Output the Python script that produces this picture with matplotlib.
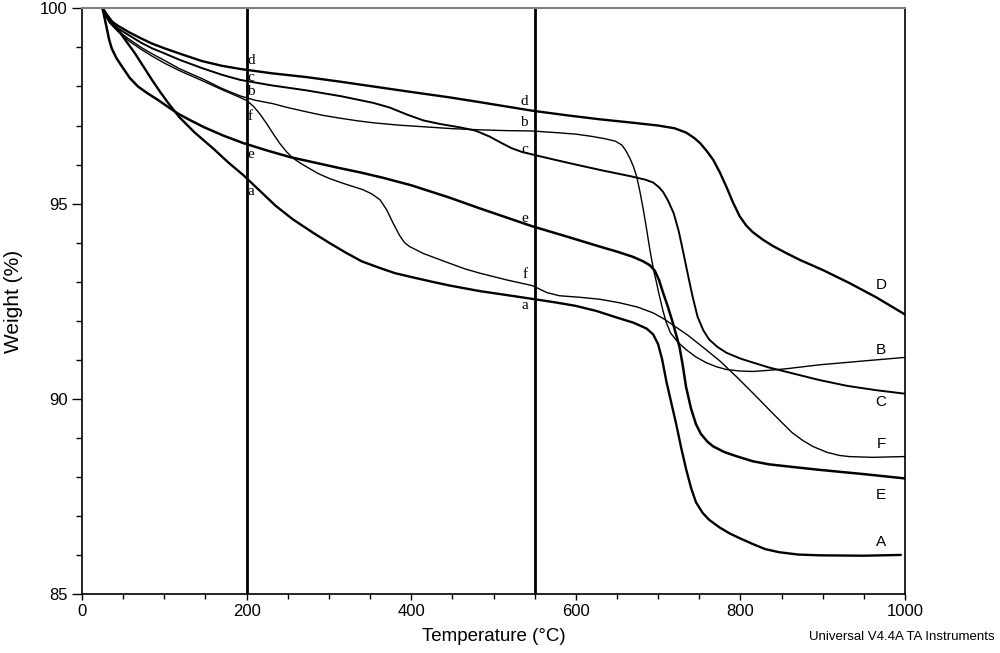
import numpy as np
import matplotlib
matplotlib.use('Agg')
import matplotlib.pyplot as plt
from matplotlib.ticker import MultipleLocator

plt.rcParams['font.family'] = ['Liberation Sans', 'DejaVu Sans']

# TGA curves (temperature in deg C, weight in %)
T_A = [25, 27, 30, 36, 44, 54, 64, 75, 85, 95, 105, 118, 137, 160, 178, 196,
       215, 235, 256, 281, 300, 320, 340, 362, 380, 400, 425, 447, 483, 515,
       547, 575, 600, 625, 653, 670, 686, 694, 700, 705, 710, 716, 722, 728,
       734, 740, 746, 754, 762, 775, 787, 800, 815, 830, 847, 870, 896, 950,
       995]
W_A = [100, 99.95, 99.85, 99.68, 99.45, 99.15, 98.86, 98.5, 98.17, 97.86,
       97.57, 97.22, 96.82, 96.4, 96.05, 95.73, 95.35, 94.95, 94.6, 94.25,
       94.0, 93.75, 93.52, 93.35, 93.22, 93.12, 93.0, 92.9, 92.76, 92.66,
       92.56, 92.47, 92.38, 92.25, 92.06, 91.95, 91.8, 91.65, 91.4, 91.0,
       90.45, 89.9, 89.35, 88.75, 88.2, 87.72, 87.35, 87.08, 86.9, 86.7,
       86.55, 86.42, 86.28, 86.15, 86.07, 86.01, 85.99, 85.98, 86.0]

T_B = [25, 28, 34, 44, 58, 72, 85, 100, 119, 146, 170, 192, 210, 232, 250,
       273, 293, 313, 335, 354, 385, 414, 450, 483, 515, 547, 575, 600, 620,
       636, 648, 656, 661, 666, 670, 674, 678, 682, 686, 690, 694, 698, 702,
       706, 710, 715, 724, 734, 746, 759, 771, 783, 800, 815, 835, 856, 896,
       950, 1000]
W_B = [100, 99.83, 99.63, 99.42, 99.2, 99.0, 98.84, 98.67, 98.45, 98.2,
       97.95, 97.76, 97.65, 97.56, 97.46, 97.35, 97.26, 97.19, 97.12, 97.07,
       97.01, 96.97, 96.92, 96.89, 96.87, 96.86, 96.82, 96.78, 96.72, 96.66,
       96.6, 96.5, 96.35, 96.15, 95.95, 95.69, 95.3, 94.85, 94.35, 93.82,
       93.35, 92.98, 92.6, 92.25, 91.95, 91.69, 91.45, 91.26, 91.07, 90.92,
       90.82, 90.75, 90.71, 90.7, 90.73, 90.77, 90.87, 90.97, 91.06]

T_C = [25, 28, 34, 44, 58, 72, 85, 100, 119, 146, 170, 192, 230, 273, 315,
       354, 374, 395, 415, 435, 460, 478, 495, 510, 522, 535, 547, 575, 600,
       630, 669, 685, 694, 701, 706, 712, 719, 725, 730, 736, 742, 748, 755,
       762, 772, 783, 800, 815, 835, 856, 875, 896, 930, 965, 1000]
W_C = [100, 99.85, 99.65, 99.48, 99.3, 99.12, 98.98, 98.85, 98.68, 98.47,
       98.3, 98.17, 98.03, 97.9, 97.75, 97.58, 97.46, 97.28, 97.13, 97.04,
       96.95, 96.87, 96.72, 96.55, 96.42, 96.32, 96.26, 96.12, 96.0, 95.86,
       95.69, 95.61, 95.54, 95.42, 95.3, 95.08, 94.75, 94.3, 93.81, 93.2,
       92.61, 92.1, 91.75, 91.52, 91.33, 91.18, 91.03, 90.93, 90.8, 90.69,
       90.59, 90.48, 90.33, 90.22, 90.13]

T_D = [25, 28, 34, 44, 58, 72, 85, 100, 119, 146, 170, 192, 230, 273, 315,
       354, 400, 447, 483, 515, 547, 590, 629, 670, 700, 720, 734, 744, 751,
       759, 767, 775, 783, 791, 799, 807, 815, 827, 839, 855, 872, 900, 932,
       965, 1000]
W_D = [100, 99.85, 99.7, 99.55, 99.38, 99.23, 99.1, 98.98, 98.84, 98.65,
       98.53, 98.45, 98.34, 98.24, 98.12, 98.0, 97.86, 97.72, 97.6, 97.49,
       97.38, 97.26, 97.16, 97.07, 97.0, 96.93, 96.82, 96.68, 96.55, 96.35,
       96.12, 95.8, 95.43, 95.03, 94.68, 94.44, 94.27, 94.08, 93.92, 93.74,
       93.56, 93.3, 92.97, 92.6, 92.16]

T_E = [25, 27, 30, 33, 36, 42, 49, 58, 68, 80, 92, 105, 117, 133, 149, 172,
       196, 225, 253, 283, 313, 340, 366, 400, 425, 447, 483, 515, 547, 590,
       629, 650, 669, 682, 690, 696, 701, 706, 712, 718, 726, 730, 734, 740,
       746, 752, 760, 767, 780, 795, 815, 835, 865, 896, 950, 1000]
W_E = [100, 99.8, 99.5, 99.2, 98.98, 98.72, 98.5, 98.22, 98.0, 97.82, 97.66,
       97.47, 97.3, 97.12, 96.95, 96.74, 96.55, 96.36, 96.19, 96.05, 95.91,
       95.79, 95.66, 95.47, 95.3, 95.15, 94.88, 94.65, 94.42, 94.15, 93.9,
       93.77, 93.64, 93.52, 93.42, 93.28, 93.05, 92.72, 92.35, 91.94, 91.33,
       90.85, 90.3, 89.75, 89.35, 89.1, 88.9, 88.78, 88.64, 88.53, 88.4,
       88.32, 88.25, 88.18, 88.07, 87.96]

T_F = [25, 28, 34, 44, 58, 72, 85, 100, 119, 146, 170, 192, 200, 208, 216,
       224, 232, 240, 248, 256, 265, 273, 287, 301, 320, 341, 352, 362, 370,
       378, 386, 392, 398, 415, 443, 465, 483, 515, 547, 565, 580, 605, 629,
       653, 675, 694, 706, 718, 736, 754, 775, 795, 815, 835, 850, 863, 876,
       888, 905, 920, 932, 960, 1000]
W_F = [100, 99.83, 99.62, 99.4, 99.15, 98.95, 98.78, 98.6, 98.4, 98.15,
       97.92, 97.72, 97.64, 97.5, 97.3, 97.06, 96.8, 96.55, 96.34, 96.17,
       96.04, 95.94, 95.77, 95.64, 95.5, 95.36, 95.25, 95.1, 94.85, 94.5,
       94.18, 94.0, 93.9, 93.72, 93.5, 93.33, 93.22, 93.05, 92.9, 92.72,
       92.64, 92.6, 92.55, 92.46, 92.35, 92.2, 92.06, 91.89, 91.63, 91.33,
       90.97, 90.57, 90.15, 89.72, 89.4, 89.13, 88.93, 88.78, 88.63, 88.55,
       88.52, 88.5, 88.52]

# curve name -> (T, W, linewidth)
CURVES = {
    'A': (T_A, W_A, 1.7),
    'B': (T_B, W_B, 1.0),
    'C': (T_C, W_C, 1.4),
    'D': (T_D, W_D, 1.7),
    'E': (T_E, W_E, 1.8),
    'F': (T_F, W_F, 1.0),
}

# end-of-curve labels (y position) and lowercase markers on the two cursors
END_LABEL_Y = {'D': 92.91, 'B': 91.26, 'C': 89.93, 'F': 88.85, 'E': 87.54,
               'A': 86.32}
CURSOR_T = [200, 550]
MARK_200 = {'d': 98.66, 'c': 98.24, 'b': 97.86, 'f': 97.22, 'e': 96.27,
            'a': 95.3}
MARK_550 = {'d': 97.62, 'b': 97.07, 'c': 96.38, 'e': 94.63, 'f': 93.18,
            'a': 92.38}

fig = plt.figure(figsize=(10, 6.53), dpi=100)
ax = fig.add_axes([0.082, 0.0904, 0.823, 0.8967])

for name, (t, w, lw) in CURVES.items():
    ax.plot(t, w, color='black', linewidth=lw, solid_joinstyle='round',
            solid_capstyle='round')

for tc in CURSOR_T:
    ax.axvline(tc, color='black', linewidth=2.0)

for name, y in END_LABEL_Y.items():
    ax.text(971, y, name, ha='center', va='center', fontsize=11)

serif = ['Liberation Serif', 'DejaVu Serif']
for s, y in MARK_200.items():
    ax.text(201, y, s, ha='left', va='center', fontsize=11, family=serif)
for s, y in MARK_550.items():
    ax.text(542, y, s, ha='right', va='center', fontsize=11, family=serif)

ax.set_xlim(0, 1000)
ax.set_ylim(85, 100)
ax.xaxis.set_major_locator(MultipleLocator(200))
ax.xaxis.set_minor_locator(MultipleLocator(50))
ax.yaxis.set_major_locator(MultipleLocator(5))
ax.yaxis.set_minor_locator(MultipleLocator(1))
ax.tick_params(axis='both', which='major', labelsize=12, direction='out',
               width=1.0)
ax.tick_params(axis='x', which='major', length=4)
ax.tick_params(axis='x', which='minor', length=3.5, width=1.0)
ax.tick_params(axis='y', which='major', length=7)
ax.tick_params(axis='y', which='minor', length=4, width=1.0)

for side in ['left', 'bottom', 'right']:
    ax.spines[side].set_linewidth(1.2)
ax.spines['top'].set_color('0.5')
ax.spines['top'].set_linewidth(1.5)

ax.set_xlabel('Temperature (°C)', fontsize=13.5, labelpad=6)
ax.set_ylabel('Weight (%)', fontsize=15, labelpad=12)

fig.text(0.995, 1 - 637 / 653, 'Universal V4.4A TA Instruments',
         ha='right', va='center', fontsize=9.5)

fig.savefig('out.png', dpi=100)
